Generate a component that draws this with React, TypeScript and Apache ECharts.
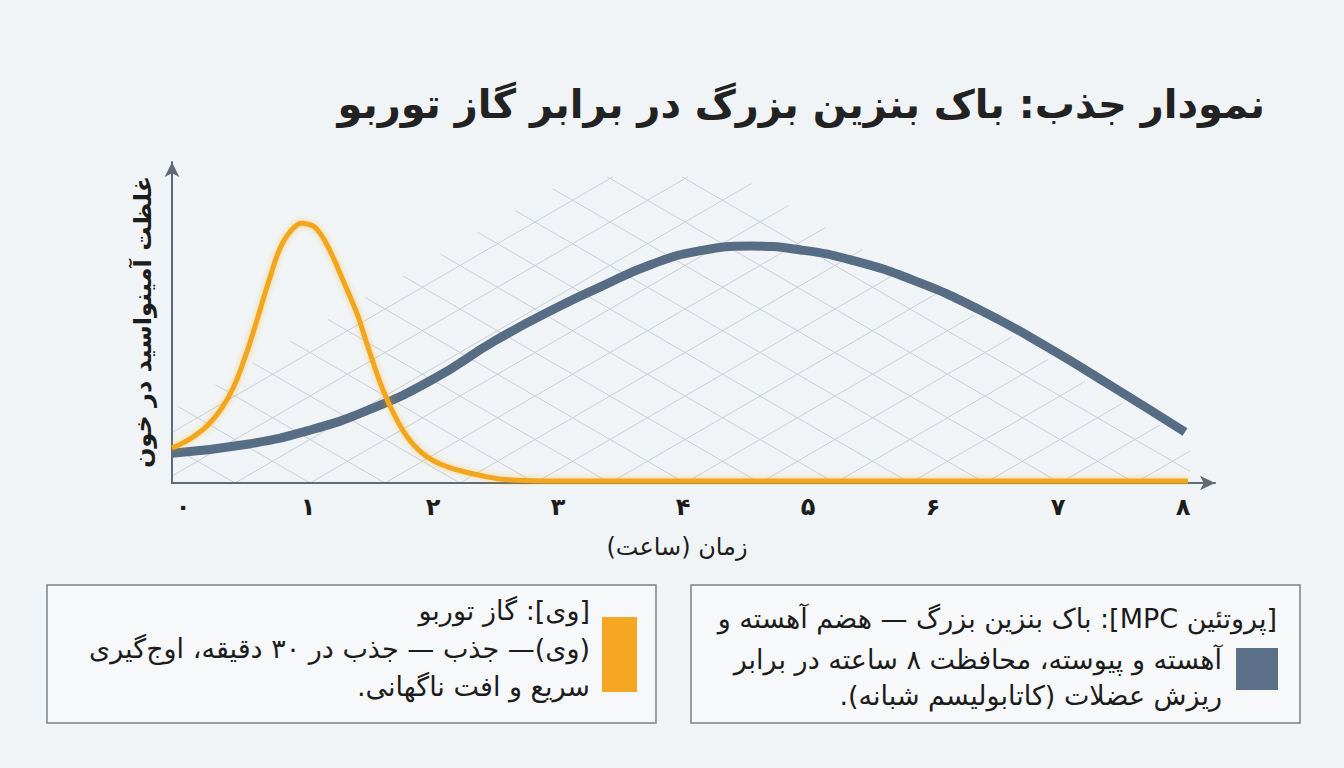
import { useEffect, useRef } from 'react';
import * as echarts from 'echarts';

// hours on the x axis and their Persian labels
const hourTicks = [0, 1, 2, 3, 4, 5, 6, 7, 8];
const hourLabels = ['۰', '۱', '۲', '۳', '۴', '۵', '۶', '۷', '۸'];

// whey: fast spike then drop
const turboHours = [
  -0.088, 0, 0.1, 0.2, 0.3, 0.4, 0.5, 0.55, 0.6, 0.65, 0.7, 0.75, 0.8, 0.85, 0.9, 0.95, 1.0,
  1.05, 1.1, 1.15, 1.2, 1.25, 1.3, 1.35, 1.4, 1.45, 1.5, 1.6, 1.7, 1.8, 1.9, 2.0, 2.1, 2.2,
  2.4, 2.6, 2.8, 3.0, 8.04,
];
const turboLevel = [
  10.9, 12.5, 14.9, 18.1, 22.8, 29.5, 39.6, 45.5, 51.8, 58.3, 64.5, 70.5, 75.0, 77.9, 80.0, 80.9, 80.6,
  79.8, 77.6, 74.3, 70.4, 65.9, 61.4, 56.8, 52.0, 46.0, 40.0, 29.0, 20.5, 14.0, 9.8, 7.0, 5.3, 4.0,
  2.2, 1.0, 0.7, 0.6, 0.6,
];

// MPC: slow, long release
const tankHours = [-0.088, 0.5, 1.0, 1.5, 2.0, 2.5, 3.0, 3.34, 3.74, 4.14, 4.54, 4.94, 5.34, 5.84, 6.376, 6.912, 7.44, 8.016];
const tankLevel = [9.3, 12.0, 16.3, 23.0, 32.3, 44.4, 54.8, 61.1, 68.0, 72.4, 73.8, 72.6, 69.5, 63.2, 53.9, 42.4, 29.9, 15.9];

const titleText = 'نمودار جذب: باک بنزین بزرگ در برابر گاز توربو';
const xAxisTitle = 'زمان (ساعت)';
const yAxisTitle = 'غلظت آمینواسید در خون';
const turboLegend = [
  '[وی]: گاز توربو',
  '(وی)— جذب — جذب در ۳۰ دقیقه، اوج‌گیری',
  'سریع و افت ناگهانی.',
];
const tankLegend = [
  '[پروتئین MPC]: باک بنزین بزرگ — هضم آهسته و',
  'آهسته و پیوسته، محافظت ۸ ساعته در برابر',
  'ریزش عضلات (کاتابولیسم شبانه).',
];

const FONT = '"DejaVu Sans", sans-serif';
const ORANGE = '#f2a61f';
const SLATE = '#576d84';
const AXIS = '#5e6a76';

// outline of the diamond lattice behind the curves
const latticeOutline: [number, number][] = [
  [172, 483], [172, 410], [573, 177], [740, 177], [1190, 443], [1190, 483],
];

function clipToOutline(px: number, py: number, dx: number, dy: number) {
  const ts: number[] = [];
  const n = latticeOutline.length;
  for (let i = 0; i < n; i++) {
    const [ax, ay] = latticeOutline[i];
    const [bx, by] = latticeOutline[(i + 1) % n];
    const ex = bx - ax;
    const ey = by - ay;
    const den = dx * ey - dy * ex;
    if (Math.abs(den) < 1e-9) continue;
    const t = ((ax - px) * ey - (ay - py) * ex) / den;
    const u = ((ax - px) * dy - (ay - py) * dx) / den;
    if (u >= -1e-9 && u <= 1 + 1e-9) ts.push(t);
  }
  if (ts.length < 2) return null;
  const t0 = Math.min(...ts);
  const t1 = Math.max(...ts);
  if (t1 - t0 < 1) return null;
  return { x1: px + dx * t0, y1: py + dy * t0, x2: px + dx * t1, y2: py + dy * t1 };
}

function buildLattice() {
  const out: any[] = [];
  const slope = 0.58;
  for (let k = -25; k <= 25; k++) {
    const bx = 610 + 75 * k;
    for (const s of [slope, -slope]) {
      const seg = clipToOutline(bx, 483, 1, s);
      if (!seg) continue;
      out.push({
        type: 'line',
        silent: true,
        z: 0,
        shape: seg,
        style: { stroke: '#c9cfd5', lineWidth: 1 },
      });
    }
  }
  return out;
}

function legendText(text: string, x: number, y: number) {
  return {
    type: 'text',
    x,
    y,
    z: 10,
    style: {
      text,
      align: 'left',
      verticalAlign: 'middle',
      fontSize: 27,
      fontFamily: FONT,
      fill: '#1c1c1c',
    },
  };
}

export default function App() {
  const chartRef = useRef<HTMLDivElement>(null);

  useEffect(() => {
    if (!chartRef.current) return;
    const chart = echarts.init(chartRef.current, null, { renderer: 'svg' });

    const option: any = {
      animation: false,
      backgroundColor: '#f1f4f6',
      grid: { left: 172, right: 129, top: 162, bottom: 285, outerBoundsMode: 'none' },
      xAxis: {
        type: 'value',
        min: -0.088,
        max: 8.256,
        axisLine: {
          show: true,
          onZero: false,
          symbol: ['none', 'arrow'],
          symbolSize: [11, 15],
          lineStyle: { color: AXIS, width: 2 },
        },
        axisTick: { show: false },
        splitLine: { show: false },
        axisLabel: {
          customValues: hourTicks,
          formatter: (v: number) => hourLabels[Math.round(v)],
          color: '#1c1c1c',
          fontSize: 24,
          fontWeight: 'bold',
          fontFamily: FONT,
          margin: 12,
        },
      },
      yAxis: {
        type: 'value',
        min: 0,
        max: 100,
        axisLine: {
          show: true,
          onZero: false,
          symbol: ['none', 'arrow'],
          symbolSize: [11, 15],
          lineStyle: { color: AXIS, width: 2 },
        },
        axisTick: { show: false },
        axisLabel: { show: false },
        splitLine: { show: false },
      },
      series: [
        {
          name: 'MPC',
          type: 'line',
          data: tankHours.map((h, i) => [h, tankLevel[i]]),
          smooth: 0.5,
          symbol: 'none',
          z: 3,
          lineStyle: { color: SLATE, width: 9, cap: 'butt' },
        },
        {
          name: 'Whey',
          type: 'line',
          data: turboHours.map((h, i) => [h, turboLevel[i]]),
          smooth: 0.5,
          symbol: 'none',
          z: 4,
          lineStyle: {
            color: ORANGE,
            width: 5,
            shadowBlur: 6,
            shadowColor: 'rgba(245,170,30,0.45)',
          },
        },
      ],
      graphic: [
        ...buildLattice(),
        {
          type: 'text',
          x: 1265,
          y: 104,
          z: 10,
          style: {
            text: titleText,
            align: 'left',
            verticalAlign: 'middle',
            fontSize: 40,
            fontWeight: 'bold',
            fontFamily: FONT,
            fill: '#222222',
          },
        },
        {
          type: 'text',
          x: 677,
          y: 547,
          z: 10,
          style: {
            text: xAxisTitle,
            align: 'center',
            verticalAlign: 'middle',
            fontSize: 24,
            fontFamily: FONT,
            fill: '#1c1c1c',
          },
        },
        {
          type: 'text',
          x: 143,
          y: 322,
          rotation: Math.PI / 2,
          z: 10,
          style: {
            text: yAxisTitle,
            align: 'center',
            verticalAlign: 'middle',
            fontSize: 24,
            fontWeight: 'bold',
            fontFamily: FONT,
            fill: '#1c1c1c',
          },
        },
        // legend boxes
        {
          type: 'rect',
          z: 9,
          shape: { x: 47, y: 585, width: 609, height: 138 },
          style: { fill: '#f6f8fa', stroke: '#7b8087', lineWidth: 1.5 },
        },
        {
          type: 'rect',
          z: 9,
          shape: { x: 691, y: 585, width: 609, height: 138 },
          style: { fill: '#f6f8fa', stroke: '#7b8087', lineWidth: 1.5 },
        },
        {
          type: 'rect',
          z: 10,
          shape: { x: 602, y: 617, width: 35, height: 75 },
          style: { fill: '#f5a623' },
        },
        {
          type: 'rect',
          z: 10,
          shape: { x: 1236, y: 648, width: 42, height: 42 },
          style: { fill: '#5b7088' },
        },
        legendText(turboLegend[0], 590, 610),
        legendText(turboLegend[1], 590, 648),
        legendText(turboLegend[2], 590, 686),
        legendText(tankLegend[0], 1277, 618),
        legendText(tankLegend[1], 1222, 659),
        legendText(tankLegend[2], 1222, 695),
      ],
    };

    chart.setOption(option);

    return () => {
      chart.dispose();
    };
  }, []);

  return (
    <>
      <style>{'body{margin:0;background:#f1f4f6}.rtl-chart text{direction:rtl}'}</style>
      <div ref={chartRef} className="rtl-chart" style={{ width: 1344, height: 768 }} />
    </>
  );
}
